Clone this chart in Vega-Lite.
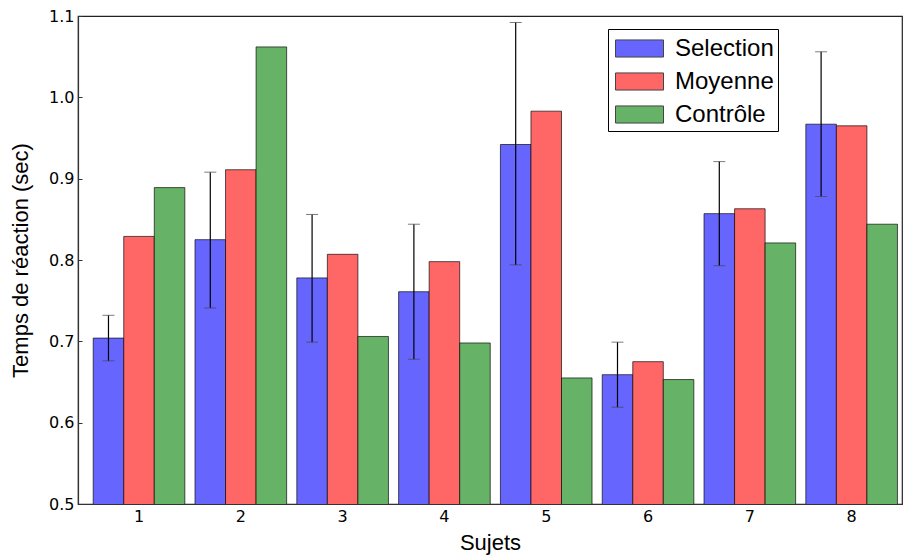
{
  "$schema": "https://vega.github.io/schema/vega-lite/v6.json",
  "width": 824,
  "height": 488,
  "autosize": {"type": "none"},
  "padding": {"left": 78, "top": 16, "right": 3, "bottom": 51},
  "background": "white",
  "config": {
    "view": {"stroke": "#222", "strokeWidth": 1.2},
    "axis": {"grid": false, "domainColor": "#333", "domainWidth": 1.2, "tickColor": "#333", "labelColor": "#000", "titleColor": "#000", "titleFontWeight": "normal"}
  },
  "data": {
    "values": [
      {"Sujet": 1, "Condition": "Selection", "Temps": 0.704, "Bas": 0.676, "Haut": 0.732},
      {"Sujet": 1, "Condition": "Moyenne", "Temps": 0.829},
      {"Sujet": 1, "Condition": "Contrôle", "Temps": 0.889},
      {"Sujet": 2, "Condition": "Selection", "Temps": 0.825, "Bas": 0.741, "Haut": 0.908},
      {"Sujet": 2, "Condition": "Moyenne", "Temps": 0.911},
      {"Sujet": 2, "Condition": "Contrôle", "Temps": 1.062},
      {"Sujet": 3, "Condition": "Selection", "Temps": 0.778, "Bas": 0.699, "Haut": 0.856},
      {"Sujet": 3, "Condition": "Moyenne", "Temps": 0.807},
      {"Sujet": 3, "Condition": "Contrôle", "Temps": 0.706},
      {"Sujet": 4, "Condition": "Selection", "Temps": 0.761, "Bas": 0.678, "Haut": 0.844},
      {"Sujet": 4, "Condition": "Moyenne", "Temps": 0.798},
      {"Sujet": 4, "Condition": "Contrôle", "Temps": 0.698},
      {"Sujet": 5, "Condition": "Selection", "Temps": 0.942, "Bas": 0.794, "Haut": 1.092},
      {"Sujet": 5, "Condition": "Moyenne", "Temps": 0.983},
      {"Sujet": 5, "Condition": "Contrôle", "Temps": 0.655},
      {"Sujet": 6, "Condition": "Selection", "Temps": 0.659, "Bas": 0.619, "Haut": 0.699},
      {"Sujet": 6, "Condition": "Moyenne", "Temps": 0.675},
      {"Sujet": 6, "Condition": "Contrôle", "Temps": 0.653},
      {"Sujet": 7, "Condition": "Selection", "Temps": 0.857, "Bas": 0.793, "Haut": 0.921},
      {"Sujet": 7, "Condition": "Moyenne", "Temps": 0.863},
      {"Sujet": 7, "Condition": "Contrôle", "Temps": 0.821},
      {"Sujet": 8, "Condition": "Selection", "Temps": 0.967, "Bas": 0.878, "Haut": 1.056},
      {"Sujet": 8, "Condition": "Moyenne", "Temps": 0.965},
      {"Sujet": 8, "Condition": "Contrôle", "Temps": 0.844}
    ]
  },
  "encoding": {
    "x": {
      "field": "Sujet", "type": "ordinal",
      "scale": {"paddingInner": 0.1, "paddingOuter": 0.097, "align": 0.77},
      "axis": {"title": "Sujets", "labelAngle": 0, "labelFont": "DejaVu Sans", "labelFontSize": 16, "titleFont": "Liberation Sans", "titleFontSize": 22, "tickSize": -4, "labelPadding": 8, "titlePadding": 8}
    },
    "xOffset": {"field": "Condition", "type": "nominal", "scale": {"domain": ["Selection", "Moyenne", "Contrôle"], "paddingInner": 0, "paddingOuter": 0}}
  },
  "layer": [
    {
      "mark": {"type": "bar", "clip": true, "stroke": "#000", "strokeOpacity": 0.65, "strokeWidth": 1},
      "encoding": {
        "y": {
          "field": "Temps", "type": "quantitative",
          "scale": {"domain": [0.5, 1.1], "nice": false, "zero": false},
          "axis": {"title": "Temps de réaction (sec)", "values": [0.5, 0.6, 0.7, 0.8, 0.9, 1.0, 1.1], "format": ".1f", "labelFont": "DejaVu Sans", "labelFontSize": 16, "titleFont": "Liberation Sans", "titleFontSize": 22, "tickSize": -4, "labelPadding": 8, "titlePadding": 16}
        },
        "color": {
          "field": "Condition", "type": "nominal",
          "scale": {"domain": ["Selection", "Moyenne", "Contrôle"], "range": ["#6666ff", "#ff6666", "#66b266"]},
          "legend": {"orient": "none", "legendX": 530, "legendY": 13, "title": null, "symbolType": "M-1.6,-0.57H1.6V0.57H-1.6Z", "symbolSize": 900, "symbolStrokeColor": "#444", "symbolStrokeWidth": 1, "symbolOpacity": 1, "labelFont": "Liberation Sans", "labelFontSize": 24, "labelColor": "#000", "strokeColor": "#000", "padding": 4, "symbolOffset": 12, "labelOffset": 20, "rowPadding": 5, "fillColor": "#fff"}
        }
      }
    },
    {
      "transform": [{"filter": "isValid(datum.Bas)"}],
      "mark": {"type": "rule", "color": "#000", "strokeWidth": 1.2},
      "encoding": {"y": {"field": "Bas", "type": "quantitative"}, "y2": {"field": "Haut"}}
    },
    {
      "transform": [{"filter": "isValid(datum.Bas)"}],
      "mark": {"type": "tick", "color": "#444", "thickness": 1, "size": 12},
      "encoding": {"y": {"field": "Bas", "type": "quantitative"}}
    },
    {
      "transform": [{"filter": "isValid(datum.Haut)"}],
      "mark": {"type": "tick", "color": "#444", "thickness": 1, "size": 12},
      "encoding": {"y": {"field": "Haut", "type": "quantitative"}}
    }
  ]
}
